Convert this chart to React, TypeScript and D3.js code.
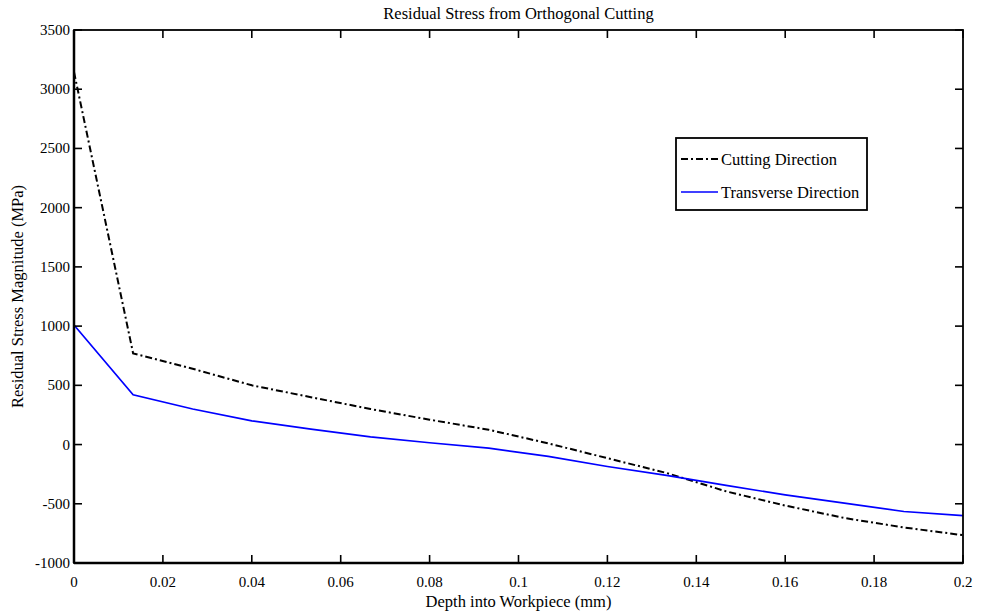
import React, { useEffect, useRef } from 'react';
import * as d3 from 'd3';

const depth = [0, 0.0133, 0.0267, 0.04, 0.0533, 0.0667, 0.08, 0.0933, 0.1067, 0.12, 0.1333, 0.1467, 0.16, 0.1733, 0.1867, 0.2];
const cutting = [3145, 770, 640, 500, 400, 300, 210, 125, 10, -115, -240, -395, -515, -620, -700, -765];
const transverse = [1010, 420, 300, 200, 130, 65, 15, -30, -100, -185, -260, -345, -425, -495, -565, -600];
const xTicks = [0, 0.02, 0.04, 0.06, 0.08, 0.1, 0.12, 0.14, 0.16, 0.18, 0.2];
const yTicks = [-1000, -500, 0, 500, 1000, 1500, 2000, 2500, 3000, 3500];
const seriesNames = ['Cutting Direction', 'Transverse Direction'];

const W = 981, H = 616;
const margin = { top: 30, right: 18, bottom: 53, left: 74 };
const FONT = '"Liberation Serif", "Times New Roman", serif';
const DASHDOT = '7,3,2,3';

export default function App() {
	const ref = useRef<SVGSVGElement>(null);

	useEffect(() => {
		const svg = d3.select(ref.current);
		svg.selectAll('*').remove();

		const x = d3.scaleLinear().domain([0, 0.2]).range([margin.left, W - margin.right]);
		const y = d3.scaleLinear().domain([-1000, 3500]).range([H - margin.bottom, margin.top]);
		const x0 = x.range()[0], x1 = x.range()[1];
		const y0 = y.range()[0], y1 = y.range()[1];
		const tick = 8;

		const g = svg.append('g');

		// lines
		const line = d3.line<number>()
			.x((d, i) => x(depth[i]))
			.y(d => y(d));

		g.append('path')
			.datum(cutting)
			.attr('d', line)
			.attr('fill', 'none')
			.attr('stroke', '#000')
			.attr('stroke-width', 2)
			.attr('stroke-dasharray', DASHDOT);

		g.append('path')
			.datum(transverse)
			.attr('d', line)
			.attr('fill', 'none')
			.attr('stroke', '#0000ff')
			.attr('stroke-width', 1.7);

		// box
		g.append('rect')
			.attr('x', x0).attr('y', y1)
			.attr('width', x1 - x0).attr('height', y0 - y1)
			.attr('fill', 'none').attr('stroke', '#000').attr('stroke-width', 1.8);
		g.append('line').attr('x1', x0).attr('x2', x0).attr('y1', y1).attr('y2', y0)
			.attr('stroke', '#000').attr('stroke-width', 2.5);
		g.append('line').attr('x1', x0).attr('x2', x1).attr('y1', y0).attr('y2', y0)
			.attr('stroke', '#000').attr('stroke-width', 2.5);

		// ticks (inward, on all sides)
		xTicks.forEach(t => {
			g.append('line').attr('x1', x(t)).attr('x2', x(t)).attr('y1', y0).attr('y2', y0 - tick)
				.attr('stroke', '#000').attr('stroke-width', 1.6);
			g.append('line').attr('x1', x(t)).attr('x2', x(t)).attr('y1', y1).attr('y2', y1 + tick)
				.attr('stroke', '#000').attr('stroke-width', 1.6);
			g.append('text').attr('x', x(t)).attr('y', y0 + 24)
				.attr('text-anchor', 'middle').attr('font-family', FONT).attr('font-size', 15)
				.text(String(t));
		});
		yTicks.forEach(t => {
			g.append('line').attr('x1', x0).attr('x2', x0 + tick).attr('y1', y(t)).attr('y2', y(t))
				.attr('stroke', '#000').attr('stroke-width', 1.6);
			g.append('line').attr('x1', x1).attr('x2', x1 - tick).attr('y1', y(t)).attr('y2', y(t))
				.attr('stroke', '#000').attr('stroke-width', 1.6);
			g.append('text').attr('x', x0 - 4).attr('y', y(t) + 5)
				.attr('text-anchor', 'end').attr('font-family', FONT).attr('font-size', 15)
				.text(String(t));
		});

		// labels
		svg.append('text').attr('x', (x0 + x1) / 2).attr('y', 19)
			.attr('text-anchor', 'middle').attr('font-family', FONT).attr('font-size', 16.5)
			.text('Residual Stress from Orthogonal Cutting');
		svg.append('text').attr('x', (x0 + x1) / 2).attr('y', 607)
			.attr('text-anchor', 'middle').attr('font-family', FONT).attr('font-size', 16.5)
			.text('Depth into Workpiece (mm)');
		svg.append('text')
			.attr('transform', `translate(23,${(y0 + y1) / 2}) rotate(-90)`)
			.attr('text-anchor', 'middle').attr('font-family', FONT).attr('font-size', 16.5)
			.text('Residual Stress Magnitude (MPa)');

		// legend
		const lg = svg.append('g').attr('transform', 'translate(676,138)');
		lg.append('rect').attr('width', 191).attr('height', 72)
			.attr('fill', '#fff').attr('stroke', '#000').attr('stroke-width', 1.8);
		seriesNames.forEach((name, i) => {
			const yy = 21 + i * 33;
			lg.append('line').attr('x1', 5).attr('x2', 42).attr('y1', yy).attr('y2', yy)
				.attr('stroke', i === 0 ? '#000' : '#0000ff')
				.attr('stroke-width', i === 0 ? 2 : 1.7)
				.attr('stroke-dasharray', i === 0 ? DASHDOT : null);
			lg.append('text').attr('x', 45).attr('y', yy + 6)
				.attr('font-family', FONT).attr('font-size', 16.5)
				.text(name);
		});
	}, []);

	return (
		<svg ref={ref} width={W} height={H} style={{ position: 'absolute', left: 0, top: 0, background: '#fff' }} />
	);
}
